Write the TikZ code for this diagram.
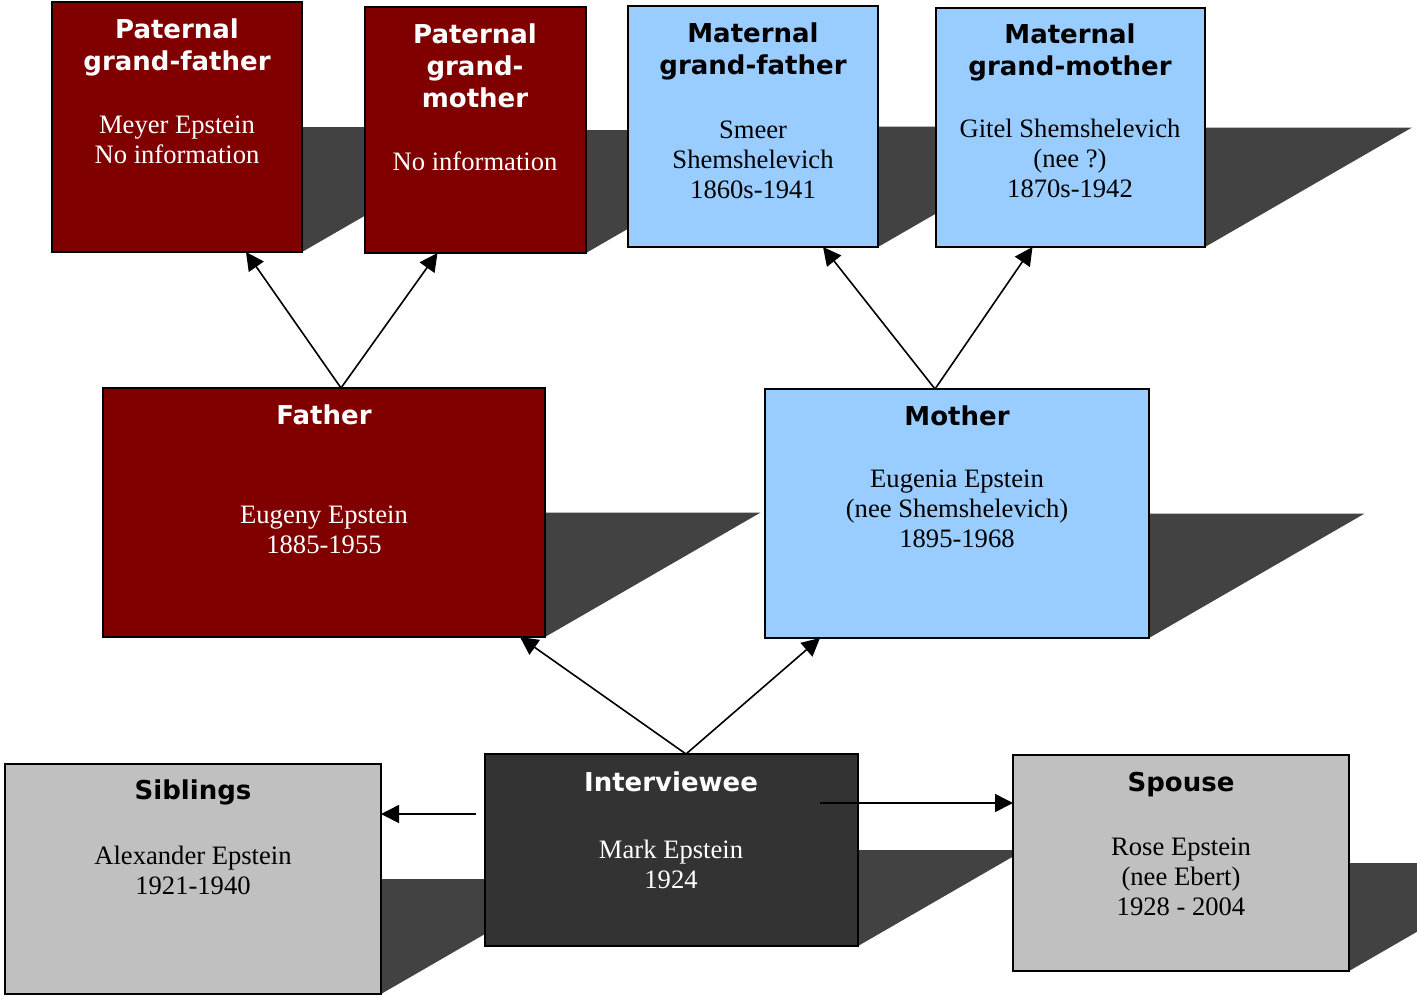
\documentclass[tikz,border=0pt]{standalone}
\usepackage{fontspec}
\setmainfont{Liberation Serif}
\newfontfamily\tf{DejaVu Sans}
\usetikzlibrary{fit,calc,arrows.meta}
\pgfdeclarelayer{bg}
\pgfsetlayers{bg,main}
\definecolor{dred}{HTML}{800000}
\definecolor{lblue}{HTML}{99CCFF}
\definecolor{lgray}{HTML}{C0C0C0}
\definecolor{dgray}{HTML}{333333}
\definecolor{shadowc}{HTML}{424242}
\newcommand\boxshadow[1]{%
  \fill[shadowc] let \p1=(#1.south west), \p2=(#1.north east) in
    (\x1,\y1) -- (\x2,\y1) -- ({\x2+0.866*(\y2-\y1)},{0.5*(\y1+\y2)})
    -- ({\x1+0.866*(\y2-\y1)},{0.5*(\y1+\y2)}) -- cycle;}
\tikzset{
  famebox/.style={draw=black, line width=1pt, inner sep=0pt, outer sep=0pt},
  ttl/.style={font=\tf\bfseries\fontsize{13}{16}\selectfont, align=center, anchor=base, inner sep=0pt},
  bdy/.style={font=\fontsize{13.3}{15}\selectfont, align=center, anchor=base, inner sep=0pt},
  arr/.style={line width=0.8pt, -{Triangle[length=9pt,width=9pt]}}
}
\begin{document}
\begin{tikzpicture}[x=0.5pt,y=-0.5pt]
\clip (0,0) rectangle (1417,996);
\useasboundingbox (0,0) rectangle (1417,996);
% boxes
\node[famebox, fill=dred, fit={(52,2)(302,252)}] (pgf) {};
\node[famebox, fill=dred, fit={(365,7)(586,253)}] (pgm) {};
\node[famebox, fill=lblue, fit={(628,6)(878,247)}] (mgf) {};
\node[famebox, fill=lblue, fit={(936,8)(1205,247)}] (mgm) {};
\node[famebox, fill=dred, fit={(103,388)(545,637)}] (father) {};
\node[famebox, fill=lblue, fit={(765,389)(1149,638)}] (mother) {};
\node[famebox, fill=lgray, fit={(5,764)(381,994)}] (sib) {};
\node[famebox, fill=dgray, fit={(485,754)(858,946)}] (iv) {};
\node[famebox, fill=lgray, fit={(1013,755)(1349,971)}] (spouse) {};
% shadows
\begin{pgfonlayer}{bg}
\boxshadow{pgf}
\boxshadow{pgm}
\boxshadow{mgf}
\boxshadow{mgm}
\boxshadow{father}
\boxshadow{mother}
\boxshadow{sib}
\boxshadow{iv}
\boxshadow{spouse}
\end{pgfonlayer}
% texts (anchored at the baseline of the last line)
\node[ttl, text=white] (pgf-t) at (177,70) {Paternal\\grand-father};
\node[bdy, text=white] (pgf-b) at (177,163) {Meyer Epstein\\No information};
\node[ttl, text=white] (pgm-t) at (475,107) {Paternal\\grand-\\mother};
\node[bdy, text=white] (pgm-b) at (475,170) {No information};
\node[ttl] (mgf-t) at (753,74) {Maternal\\grand-father};
\node[bdy] (mgf-b) at (753,198) {Smeer\\Shemshelevich\\1860s-1941};
\node[ttl] (mgm-t) at (1070,75) {Maternal\\grand-mother};
\node[bdy] (mgm-b) at (1070,197) {Gitel Shemshelevich\\(nee ?)\\1870s-1942};
\node[ttl, text=white] (father-t) at (324,424) {Father};
\node[bdy, text=white] (father-b) at (324,553) {Eugeny Epstein\\1885-1955};
\node[ttl] (mother-t) at (957,425) {Mother};
\node[bdy] (mother-b) at (957,547) {Eugenia Epstein\\(nee Shemshelevich)\\1895-1968};
\node[ttl] (sib-t) at (193,799) {Siblings};
\node[bdy] (sib-b) at (193,894) {Alexander Epstein\\1921-1940};
\node[ttl, text=white] (iv-t) at (671,791) {Interviewee};
\node[bdy, text=white] (iv-b) at (671,888) {Mark Epstein\\1924};
\node[ttl] (spouse-t) at (1181,791) {Spouse};
\node[bdy] (spouse-b) at (1181,915) {Rose Epstein\\(nee Ebert)\\1928 - 2004};
% connectors
\coordinate (fa-top) at ($(father.north)+(17,0)$);
\coordinate (mo-top) at ($(mother.north)+(-22,0)$);
\coordinate (iv-top) at ($(iv.north)+(14.5,0)$);
\draw[arr] (fa-top) -- ($(pgf.south)+(69,0)$);
\draw[arr] (fa-top) -- ($(pgm.south)+(-38,0)$);
\draw[arr] (mo-top) -- ($(mgf.south)+(70,0)$);
\draw[arr] (mo-top) -- ($(mgm.south)+(-38,0)$);
\draw[arr] (iv-top) -- ($(father.south)+(196,0)$);
\draw[arr] (iv-top) -- ($(mother.south)+(-137,0)$);
\coordinate (iv-l) at ($(iv.west)+(-9,-36)$);
\coordinate (iv-r) at ($(iv.west)+(335,-47)$);
\draw[arr] (iv-l) -- (iv-l -| sib.east);
\draw[arr] (iv-r) -- (iv-r -| spouse.west);
\end{tikzpicture}
\end{document}
